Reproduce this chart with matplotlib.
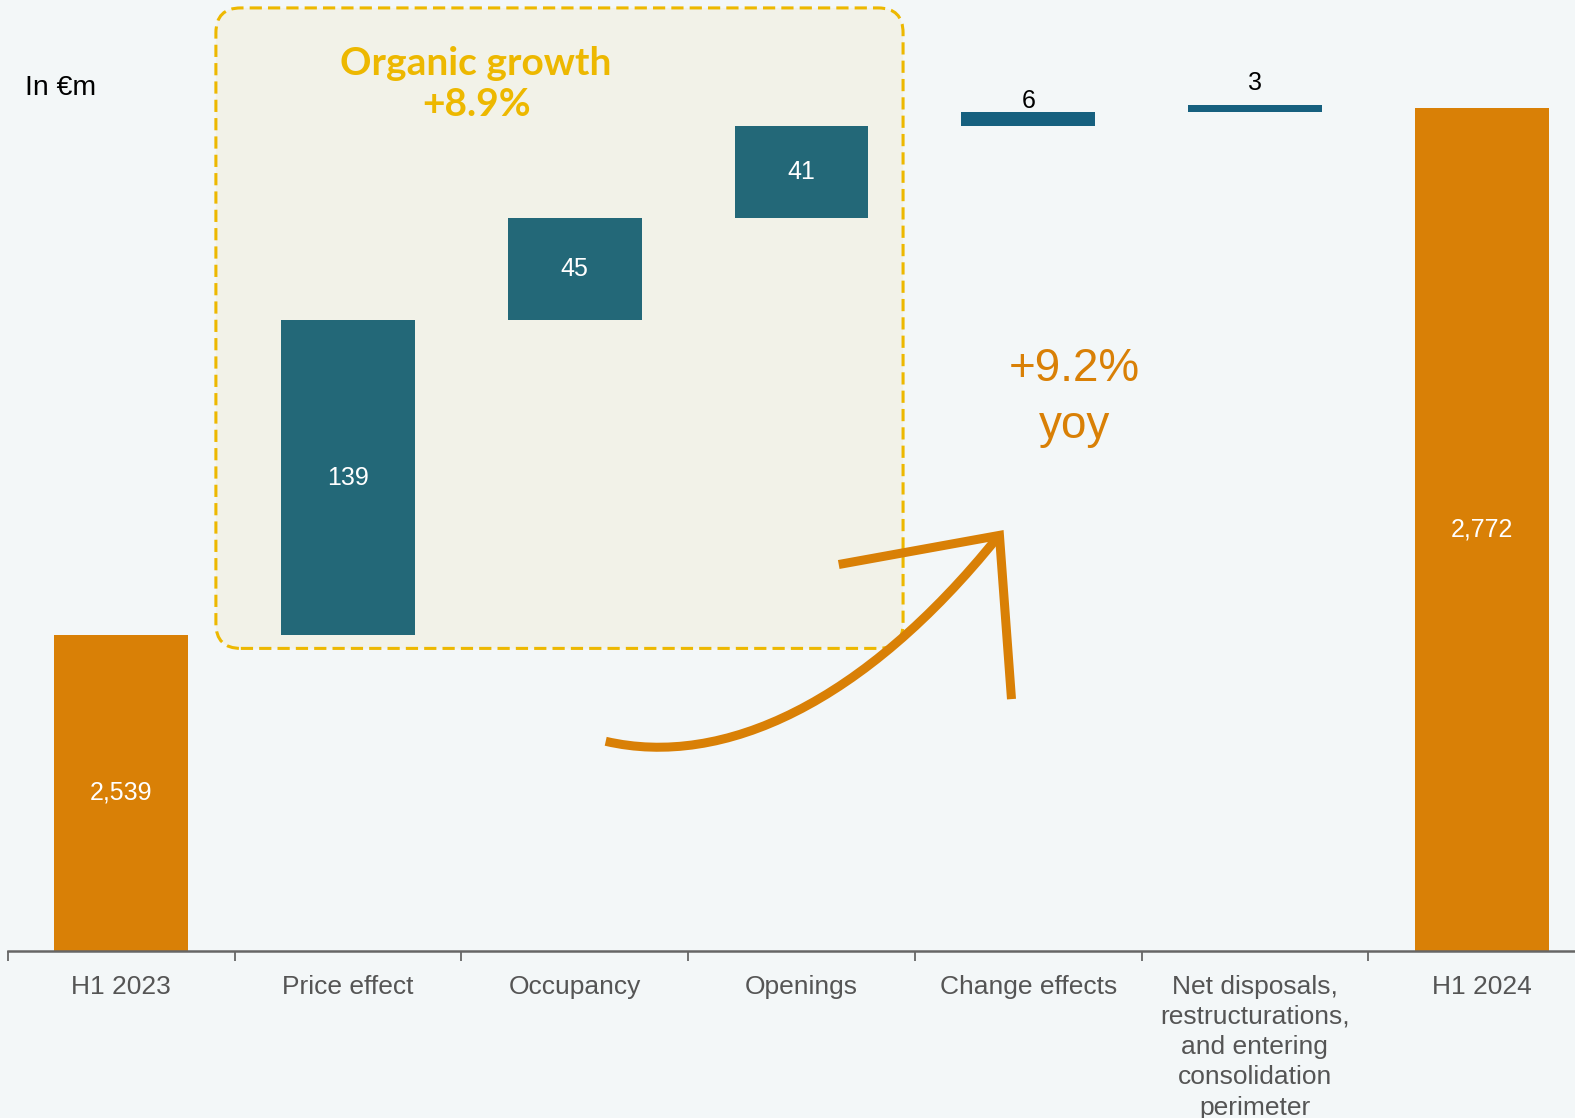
import matplotlib
matplotlib.use('Agg')
import matplotlib.pyplot as plt
from matplotlib.patches import FancyBboxPatch, PathPatch
from matplotlib.path import Path
from matplotlib import font_manager

# chart data
categories = ['H1 2023', 'Price effect', 'Occupancy', 'Openings', 'Change effects',
              'Net disposals,\nrestructurations,\nand entering\nconsolidation\nperimeter',
              'H1 2024']
start_value = 2539
deltas = [139, 45, 41, 6, 3]
end_value = 2772
value_labels = ['2,539', '139', '45', '41', '6', '3', '2,772']

BG = '#F3F7F8'
ORANGE = '#D98006'
TEAL = '#236878'
BLUE = '#16607F'
GOLD = '#EDB800'

names = {f.name for f in font_manager.fontManager.ttflist}
narrow = 'Liberation Sans Narrow' if 'Liberation Sans Narrow' in names else 'Liberation Sans'
plt.rcParams['font.family'] = ['Liberation Sans', 'DejaVu Sans']

W, H = 1575, 1118
fig = plt.figure(figsize=(W / 100, H / 100), dpi=100, facecolor=BG)
ax_w, ax_h = 1587, 951
ax = fig.add_axes([8 / W, 1 - ax_h / H, ax_w / W, ax_h / H])
ax.set_facecolor(BG)

ymin, ymax = 2399.3, 2819.5
ax.set_xlim(-0.5, 6.5)
ax.set_ylim(ymin, ymax)

# waterfall bars
bottoms, heights, colors = [], [], []
bottoms.append(ymin)
heights.append(start_value - ymin)
colors.append(ORANGE)
level = start_value
for i, d in enumerate(deltas):
    bottoms.append(level)
    heights.append(d)
    colors.append(TEAL if i < 3 else BLUE)
    level += d
bottoms.append(ymin)
heights.append(end_value - ymin)
colors.append(ORANGE)

xs = list(range(len(categories)))
ax.bar(xs, heights, bottom=bottoms, width=0.59, color=colors, zorder=3)

# labels
for i, (x, b, h, lab) in enumerate(zip(xs, bottoms, heights, value_labels)):
    if h >= 20:
        ax.text(x, b + h / 2, lab, ha='center', va='center', color='white',
                fontsize=18, zorder=5)
    else:
        off = 3 if i == 4 else 11
        ax.annotate(lab, (x, b + h), xytext=(0, off), textcoords='offset points',
                    ha='center', va='baseline', color='black', fontsize=18, zorder=5)

# organic growth box
px_x = ax_w / 7
px_y = ax_h / (ymax - ymin)
box = FancyBboxPatch((0.417, 2533), 3.448 - 0.417, 2816 - 2533,
                     boxstyle='round,pad=0,rounding_size=0.11',
                     mutation_aspect=px_x / px_y,
                     facecolor='#F2F2E8', edgecolor=GOLD, linewidth=2.2,
                     linestyle=(0, (4, 2)), zorder=1)
ax.add_patch(box)
ax.text(1.565, 2782.5, 'Organic growth\n+8.9%', ha='center', va='center', color=GOLD,
        fontsize=28, fontweight='bold', family='Lato', linespacing=1.2, zorder=4)

# yoy annotation
ax.text(4.205, 2644, '+9.2%\nyoy', ha='center', va='center', color=ORANGE,
        fontsize=33, linespacing=1.38, zorder=4)


def to_data(px, py):
    s = 1575 / 1568
    return ((px * s - 8) / px_x - 0.5, ymax - py * s / px_y)


curve = Path([to_data(603, 738), to_data(720, 765), to_data(860, 700), to_data(993, 535)],
             [Path.MOVETO, Path.CURVE4, Path.CURVE4, Path.CURVE4])
ax.add_patch(PathPatch(curve, facecolor='none', edgecolor=ORANGE, linewidth=6.5,
                       capstyle='butt', zorder=4))
head = Path([to_data(835, 562), to_data(995, 533), to_data(1007, 696)],
            [Path.MOVETO, Path.LINETO, Path.LINETO])
ax.add_patch(PathPatch(head, facecolor='none', edgecolor=ORANGE, linewidth=6.5,
                       capstyle='butt', joinstyle='miter', zorder=4))

# axes styling
for s in ['top', 'right', 'left']:
    ax.spines[s].set_visible(False)
ax.spines['bottom'].set_color('#666666')
ax.spines['bottom'].set_linewidth(1.8)
ax.spines['bottom'].set_zorder(4)
ax.set_yticks([])
ax.set_xticks([x - 0.5 for x in xs])
ax.set_xticklabels([])
ax.tick_params(axis='x', which='major', length=7, width=1.3, color='#666666')
ax.set_xticks(xs, minor=True)
ax.set_xticklabels(categories, minor=True, fontsize=19, color='#555555',
                   family=narrow, linespacing=1.33)
ax.tick_params(axis='x', which='minor', length=0, pad=17)

fig.text(25 / W, 1 - 88 / H, 'In €m', fontsize=20.5, color='black',
         ha='left', va='center')

fig.savefig('out.png', dpi=100, facecolor=BG)
